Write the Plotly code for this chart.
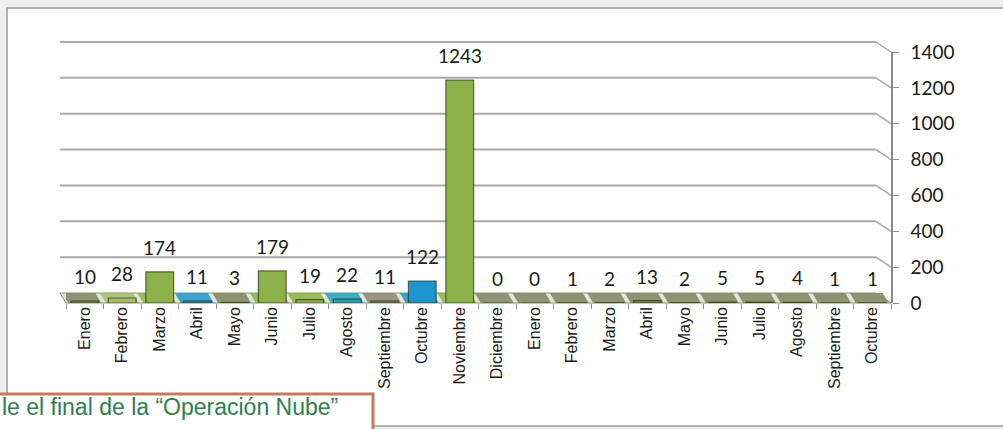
import plotly.graph_objects as go

# ---------------- data ----------------
months = ["Enero", "Febrero", "Marzo", "Abril", "Mayo", "Junio", "Julio", "Agosto",
          "Septiembre", "Octubre", "Noviembre", "Diciembre",
          "Enero", "Febrero", "Marzo", "Abril", "Mayo", "Junio", "Julio", "Agosto",
          "Septiembre", "Octubre"]
values = [10, 28, 174, 11, 3, 179, 19, 22, 11, 122, 1243, 0,
          0, 1, 2, 13, 2, 5, 5, 4, 1, 1]
y_ticks = [0, 200, 400, 600, 800, 1000, 1200, 1400]
caption = "le el final de la “Operación Nube”"

# ---------------- style ----------------
GREEN, LGREEN, BLUE, TEAL, OLIVE, BROWN = "#8db14b", "#a7bb6b", "#1f95d0", "#1ea3bf", "#7f8561", "#8c8673"
bar_colors = [OLIVE, LGREEN, GREEN, BLUE, OLIVE, GREEN, GREEN, TEAL, BROWN, BLUE, GREEN, OLIVE] + [OLIVE] * 10
BAR_W = 0.74

W, H = 1003, 429
px_left, px_right = 66, 891          # plot area (pixels)
px_top, px_bottom = 52, 303          # y=1400 and y=0 (pixels)
y_max = 1400
depth_px = 10                         # 3D back-wall offset
ppu = (px_bottom - px_top) / y_max


def fx(p):
    return p / W


def fy(p):
    return 1 - p / H


def y_paper(v, lift=0):
    return fy(px_bottom - v * ppu - lift)


x_idx = list(range(len(months)))

fig = go.Figure()
fig.add_trace(go.Bar(
    x=x_idx, y=values, width=BAR_W,
    marker=dict(color=bar_colors, line=dict(color="rgba(35,55,15,0.7)", width=1.2)),
    showlegend=False, hoverinfo="x+y",
))

# data labels
for i, v in zip(x_idx, values):
    fig.add_annotation(x=i, y=v, xref="x", yref="y", text=str(v), showarrow=False,
                       yanchor="bottom", yshift=11,
                       font=dict(family="Lato, Carlito, sans-serif", size=19, color="#1a1a1a"))

shapes = []
# outer panel
shapes.append(dict(type="rect", xref="paper", yref="paper", x0=fx(7), x1=1.02, y0=fy(426), y1=fy(8),
                   fillcolor="white", line=dict(color="#9b9b9b", width=1.5), layer="below"))
# gridlines (3D back wall with bend to the axis)
gx_l, gx_b, gx_a = fx(60), fx(876), fx(px_right)
for v in y_ticks[1:]:
    shapes.append(dict(type="line", xref="paper", yref="paper", x0=gx_l, x1=gx_b,
                       y0=y_paper(v, depth_px), y1=y_paper(v, depth_px),
                       line=dict(color="#a9a9a9", width=2), layer="below"))
    shapes.append(dict(type="line", xref="paper", yref="paper", x0=gx_b, x1=gx_a,
                       y0=y_paper(v, depth_px), y1=y_paper(v),
                       line=dict(color="#a9a9a9", width=1.5), layer="below"))
# floor (light base + per-category bottoms)
shapes.append(dict(type="path", xref="paper", yref="paper",
                   path=(f"M {gx_l},{y_paper(0, depth_px)} L {gx_b},{y_paper(0, depth_px)} "
                         f"L {gx_a},{y_paper(0)} L {fx(px_left)},{y_paper(0)} Z"),
                   fillcolor="#e4e6d8", line=dict(color="#8d9070", width=1), layer="below"))
skew = -0.16
for i, c in zip(x_idx, bar_colors):
    x0, x1 = i - 0.5 + 0.06, i + 0.5 - 0.06
    yb, yt = y_paper(0), y_paper(0, depth_px)
    shapes.append(dict(type="path", xref="x", yref="paper",
                       path=f"M {x0},{yb} L {x1},{yb} L {x1 + skew},{yt} L {x0 + skew},{yt} Z",
                       fillcolor=c, opacity=0.85, line=dict(width=0), layer="below"))
# caption box
shapes.append(dict(type="rect", xref="paper", yref="paper", x0=-0.01, x1=fx(373), y0=-0.05, y1=fy(394),
                   fillcolor="white", line=dict(color="#c27b5b", width=3), layer="above"))

fig.add_annotation(xref="paper", yref="paper", x=fx(0), y=fy(407), xanchor="left", yanchor="middle",
                   text=caption, showarrow=False,
                   font=dict(family="Liberation Sans, Arial, sans-serif", size=23, color="#2f7f4f"))

fig.update_layout(
    width=W, height=H,
    margin=dict(l=0, r=0, t=0, b=0),
    paper_bgcolor="#efefef", plot_bgcolor="rgba(0,0,0,0)",
    shapes=shapes,
    xaxis=dict(domain=[fx(px_left), fx(px_right)], range=[-0.5, len(months) - 0.5],
               tickmode="array", tickvals=x_idx, ticktext=months, tickangle=-90,
               ticks="", showgrid=False, zeroline=False, showline=False, automargin=False,
               tickfont=dict(family="Liberation Sans, Arial, sans-serif", size=16, color="#1a1a1a"),
               minor=dict(ticks="outside", ticklen=5, tick0=-0.5, dtick=1, tickcolor="#8a8a8a", showgrid=False)),
    yaxis=dict(domain=[fy(px_bottom), fy(px_top)], range=[0, y_max], side="right",
               tickmode="array", tickvals=y_ticks, showgrid=False, zeroline=False, automargin=False,
               showline=True, linecolor="#8a8a8a", linewidth=1.5,
               ticks="outside", ticklen=6, tickcolor="#8a8a8a", ticklabelstandoff=8,
               tickfont=dict(family="Lato, Carlito, sans-serif", size=19, color="#1a1a1a")),
)

fig.write_html("out.html", config={"displayModeBar": False},
               post_script="document.body.style.margin='0';document.body.style.background='#efefef';")
